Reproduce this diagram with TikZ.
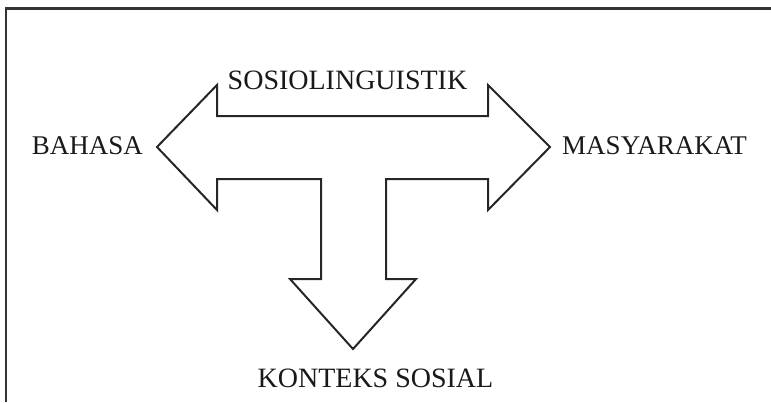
\documentclass[tikz,border=0pt]{standalone}
\usepackage{fontspec}
\setmainfont{Liberation Serif}
\begin{document}
\begin{tikzpicture}[x=1pt,y=-1pt,
  lbl/.style={inner sep=0pt,anchor=base,text=black!90,font=\fontsize{27}{30}\selectfont},
  biglbl/.style={lbl,font=\fontsize{28}{30}\selectfont},
  frameline/.style={line width=2.2pt,draw=black!80},
  arrowshape/.style={line width=2pt,draw=black!85,line join=miter}]
\useasboundingbox (0,0) rectangle (771,402);
\draw[frameline] (6,402) -- (6,8.5) -- (771,8.5);
\draw[arrowshape] (157,147) -- (217,85) -- (217,116) -- (488,116) -- (488,85)
  -- (550,147) -- (488,210) -- (488,179) -- (386,179) -- (386,279) -- (416,279)
  -- (353,349) -- (290,279) -- (321,279) -- (321,179) -- (217,179) -- (217,210) -- cycle;
\node[biglbl] (soc) at (347.5,89.3) {SOSIOLINGUISTIK};
\node[lbl] (bah) at (87.5,154.3) {BAHASA};
\node[lbl] (mas) at (654.5,154) {MASYARAKAT};
\node[biglbl] (kon) at (375.5,387.5) {KONTEKS SOSIAL};
\end{tikzpicture}
\end{document}
